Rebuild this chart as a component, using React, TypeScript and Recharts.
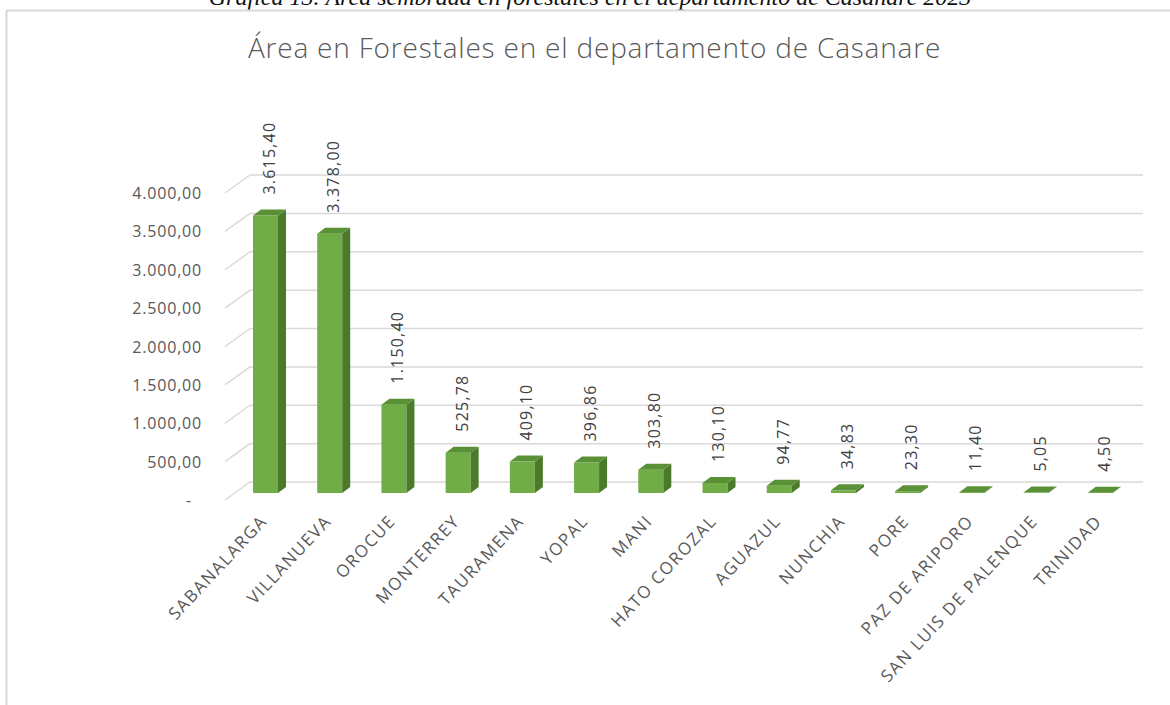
import React from "react"
import { Bar, BarChart, CartesianGrid, LabelList, XAxis, YAxis } from "recharts"

// Área en forestales (ha) por municipio, Casanare
const municipios = [
  "SABANALARGA",
  "VILLANUEVA",
  "OROCUE",
  "MONTERREY",
  "TAURAMENA",
  "YOPAL",
  "MANI",
  "HATO COROZAL",
  "AGUAZUL",
  "NUNCHIA",
  "PORE",
  "PAZ DE ARIPORO",
  "SAN LUIS DE PALENQUE",
  "TRINIDAD",
]
const areaForestal = [3615.4, 3378.0, 1150.4, 525.78, 409.1, 396.86, 303.8, 130.1, 94.77, 34.83, 23.3, 11.4, 5.05, 4.5]
const yTicks = [0, 500, 1000, 1500, 2000, 2500, 3000, 3500, 4000]

const data = municipios.map((name, i) => ({ name, value: areaForestal[i] }))

const FONT = "'Open Sans', 'DejaVu Sans', sans-serif"
const DEPTH_X = 8
const DEPTH_Y = 6

// 3.615,40 style
function formatEs(v: number) {
  if (v === 0) return "-"
  const [int, dec] = v.toFixed(2).split(".")
  return int.replace(/\B(?=(\d{3})+(?!\d))/g, ".") + "," + dec
}

// map a value through whatever scale object the grid generator hands us
function scaleY(yAxis: any, t: number) {
  const s = yAxis && yAxis.scale
  if (typeof s === "function") return s(t)
  if (s && typeof s.map === "function") return s.map(t)
  return 493 - (t / 4000) * 307
}

function Bar3D(props: any) {
  const { x, y, width, height } = props
  if (x == null || y == null) return null
  const r = x + width
  const b = y + height
  return (
    <g>
      <rect x={x} y={y} width={width} height={Math.max(height, 0)} fill="#70ad47" />
      <polygon
        points={`${r},${y} ${r + DEPTH_X},${y - DEPTH_Y} ${r + DEPTH_X},${b - DEPTH_Y} ${r},${b}`}
        fill="#4a7a2a"
      />
      <polygon
        points={`${x},${y} ${x + DEPTH_X},${y - DEPTH_Y} ${r + DEPTH_X},${y - DEPTH_Y} ${r},${y}`}
        fill="#5a9036"
      />
    </g>
  )
}

function YTick(props: any) {
  const { y, payload } = props
  const v = payload.value
  return (
    <g>
      <text
        x={v === 0 ? 192 : 202}
        y={y + 7}
        textAnchor="end"
        dominantBaseline="central"
        fontFamily={FONT}
        fontSize={16}
        letterSpacing={0.8}
        fill="#595959"
      >
        {formatEs(v)}
      </text>
      <line x1={225} y1={y + 7} x2={250} y2={y - 11} stroke="#d9d9d9" strokeWidth={1.5} />
    </g>
  )
}

function XTick(props: any) {
  const { x, y, payload } = props
  const ax = x + 3
  const ay = y + 29
  return (
    <text
      x={ax}
      y={ay}
      textAnchor="end"
      transform={`rotate(-47, ${ax}, ${ay})`}
      fontFamily={FONT}
      fontSize={17}
      letterSpacing={1.5}
      fill="#595959"
    >
      {payload.value}
    </text>
  )
}

function ValueLabel(props: any) {
  const { x, y, width, value } = props
  const lx = x + width / 2 + 3.5
  const ly = y - 21
  return (
    <text
      x={lx}
      y={ly}
      transform={`rotate(-90, ${lx}, ${ly})`}
      textAnchor="start"
      dominantBaseline="central"
      fontFamily={FONT}
      fontSize={16}
      letterSpacing={1.2}
      fill="#404040"
    >
      {formatEs(value)}
    </text>
  )
}

export default function App() {
  return (
    <div style={{ position: "absolute", left: 0, top: 0, width: 1170, height: 705, overflow: "hidden", background: "#fff" }}>
      <svg width={1170} height={705} style={{ position: "absolute", left: 0, top: 0 }}>
        <text
          x={590}
          y={5}
          textAnchor="middle"
          fontFamily="'Liberation Serif', serif"
          fontStyle="italic"
          fontSize={24}
          fill="#111"
        >
          Gráfica 13. Área sembrada en forestales en el departamento de Casanare 2023
        </text>
        <line x1={6} y1={10.5} x2={1170} y2={10.5} stroke="#d9d9d9" strokeWidth={2} />
        <line x1={6.5} y1={10} x2={6.5} y2={705} stroke="#d9d9d9" strokeWidth={2} />
        <text
          x={594.5}
          y={58}
          textAnchor="middle"
          fontFamily={FONT}
          fontWeight={300}
          fontSize={28}
          letterSpacing={0.8}
          fill="#595959"
        >
          Área en Forestales en el departamento de Casanare
        </text>
      </svg>
      <div style={{ position: "absolute", left: 0, top: 0 }}>
        <BarChart
          width={1170}
          height={705}
          data={data}
          margin={{ top: 186, right: 38, bottom: 182, left: 173 }}
          barSize={25}
        >
          <CartesianGrid
            vertical={false}
            stroke="#d9d9d9"
            strokeWidth={1.5}
            x={250}
            width={893}
            horizontalCoordinatesGenerator={({ yAxis }: any) => yTicks.map((t) => scaleY(yAxis, t) - 11)}
          />
          <XAxis
            dataKey="name"
            interval={0}
            tick={<XTick />}
            tickLine={false}
            axisLine={false}
            tickSize={0}
            tickMargin={0}
            height={30}
          />
          <YAxis
            domain={[0, 4000]}
            ticks={yTicks}
            tick={<YTick />}
            tickLine={false}
            axisLine={false}
            width={60}
          />
          <Bar dataKey="value" shape={<Bar3D />} isAnimationActive={false}>
            <LabelList dataKey="value" content={<ValueLabel />} />
          </Bar>
        </BarChart>
      </div>
    </div>
  )
}
